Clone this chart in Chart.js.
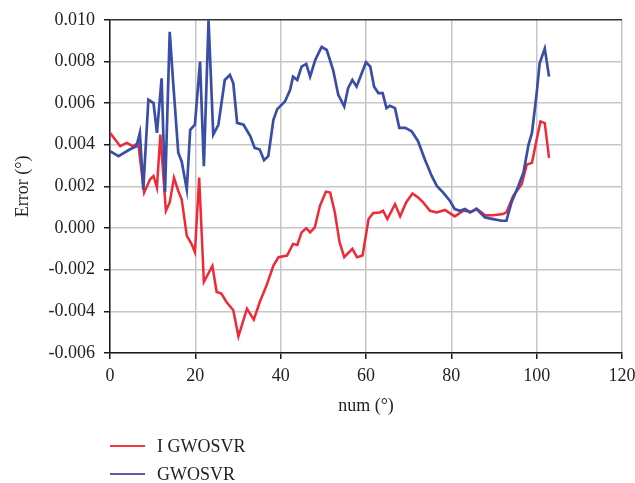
<!DOCTYPE html>
<html>
<head>
<meta charset="utf-8">
<script src="https://cdn.jsdelivr.net/npm/chart.js@4.4.1/dist/chart.umd.min.js"></script>
<style>
  html, body { margin: 0; padding: 0; background: #ffffff; }
  #wrap { position: relative; width: 635px; height: 483px; }
  #c { position: absolute; left: 0; top: 0; }
  .leg { position: absolute; left: 110px; height: 24px; font-family: "Liberation Serif", "DejaVu Serif", serif; font-size: 18px; color: #222; display: flex; align-items: center; }
  .leg .ln { width: 35px; height: 2px; margin-right: 12px; }
</style>
</head>
<body>
<div id="wrap">
  <canvas id="c" width="635" height="483"></canvas>
  <div class="leg" style="top:434px;"><div class="ln" style="background:#ec3a42;"></div><span>I GWOSVR</span></div>
  <div class="leg" style="top:462px;"><div class="ln" style="background:#5d5caa;"></div><span>GWOSVR</span></div>
</div>
<script>
const seriesNames = ["I GWOSVR", "GWOSVR"];
const xTicks = [0, 20, 40, 60, 80, 100, 120];
const yTicks = [-0.006, -0.004, -0.002, 0.000, 0.002, 0.004, 0.006, 0.008, 0.010];

const redX = [0, 1.2, 2.4, 3.9, 5.4, 6.6, 8.0, 9.4, 10.2, 11.0, 11.8, 13.1, 14.0, 15.0, 16.0, 16.8, 18.0, 19.1, 19.9, 20.9, 22.0, 24.0, 25.0, 26.1, 27.3, 28.9, 30.1, 32.1, 33.7, 35.1, 36.7, 38.3, 39.5, 41.5, 42.9, 43.9, 44.9, 46.0, 46.9, 48.0, 49.2, 50.6, 51.6, 52.7, 53.8, 54.9, 56.8, 57.9, 59.2, 60.6, 61.7, 63.2, 64.0, 65.0, 66.8, 68.0, 69.4, 70.9, 72.2, 73.4, 75.0, 76.6, 78.5, 80.8, 82.8, 84.7, 85.9, 87.9, 89.8, 92.1, 92.9, 94.5, 96.5, 97.7, 98.9, 100.0, 100.9, 101.9, 102.9];
const redY = [0.00457, 0.00425, 0.00393, 0.00409, 0.00393, 0.00409, 0.00170, 0.00234, 0.00250, 0.00194, 0.00449, 0.00083, 0.00123, 0.00242, 0.00178, 0.00138, -0.00037, -0.00076, -0.00116, 0.00242, -0.00259, -0.00182, -0.00307, -0.00315, -0.00355, -0.00395, -0.00520, -0.00387, -0.00440, -0.00355, -0.00275, -0.00180, -0.00140, -0.00132, -0.00076, -0.00081, -0.00021, -0.00001, -0.00021, 0.00003, 0.00106, 0.00175, 0.00170, 0.00075, -0.00068, -0.00140, -0.00100, -0.00140, -0.00132, 0.00043, 0.00072, 0.00075, 0.00083, 0.00043, 0.00115, 0.00056, 0.00123, 0.00166, 0.00147, 0.00123, 0.00083, 0.00075, 0.00087, 0.00056, 0.00083, 0.00078, 0.00094, 0.00062, 0.00062, 0.00067, 0.00075, 0.00154, 0.00210, 0.00305, 0.00313, 0.00425, 0.00512, 0.00504, 0.00337];

const blueX = [0, 2.0, 4.6, 6.2, 7.0, 7.8, 9.0, 10.2, 11.0, 12.1, 12.9, 14.0, 14.8, 16.0, 16.8, 18.0, 18.8, 19.9, 21.1, 22.0, 23.1, 24.2, 25.4, 26.9, 28.1, 28.9, 29.8, 31.3, 32.9, 33.9, 35.1, 36.1, 37.1, 38.3, 39.2, 41.0, 42.2, 42.9, 43.9, 44.9, 46.0, 46.9, 48.1, 49.6, 50.8, 52.3, 53.5, 54.9, 55.8, 56.8, 57.8, 59.0, 60.0, 61.0, 61.9, 62.9, 63.9, 64.8, 65.6, 66.8, 67.8, 69.2, 70.7, 72.2, 73.8, 75.4, 76.6, 78.1, 79.7, 80.8, 82.0, 83.2, 84.4, 85.9, 87.9, 89.8, 91.8, 92.9, 94.1, 95.7, 96.9, 98.1, 98.9, 100.0, 100.7, 101.9, 102.9];
const blueY = [0.00369, 0.00345, 0.00377, 0.00393, 0.00458, 0.00186, 0.00616, 0.00600, 0.00457, 0.00719, 0.00172, 0.00942, 0.00700, 0.00362, 0.00320, 0.00186, 0.00472, 0.00496, 0.00799, 0.00297, 0.00998, 0.00449, 0.00496, 0.00711, 0.00735, 0.00695, 0.00505, 0.00496, 0.00441, 0.00385, 0.00377, 0.00326, 0.00345, 0.00520, 0.00571, 0.00608, 0.00663, 0.00727, 0.00711, 0.00775, 0.00788, 0.00727, 0.00807, 0.00870, 0.00855, 0.00759, 0.00640, 0.00584, 0.00672, 0.00711, 0.00679, 0.00743, 0.00796, 0.00775, 0.00679, 0.00648, 0.00648, 0.00576, 0.00587, 0.00576, 0.00481, 0.00481, 0.00465, 0.00417, 0.00329, 0.00250, 0.00202, 0.00170, 0.00130, 0.00091, 0.00083, 0.00091, 0.00075, 0.00091, 0.00051, 0.00043, 0.00035, 0.00035, 0.00123, 0.00202, 0.00266, 0.00401, 0.00457, 0.00648, 0.00791, 0.00862, 0.00727];

const FONT = "'Liberation Serif', 'DejaVu Serif', serif";
function pts(xs, ys) { return xs.map((x, i) => ({ x: x, y: ys[i] })); }

new Chart(document.getElementById('c'), {
  type: 'scatter',
  data: {
    datasets: [
      { label: seriesNames[0], data: pts(redX, redY), showLine: true, borderColor: '#ee2a36', borderWidth: 2.5, pointRadius: 0, tension: 0, order: 2 },
      { label: seriesNames[1], data: pts(blueX, blueY), showLine: true, borderColor: '#3a4ea6', borderWidth: 2.7, pointRadius: 0, tension: 0, order: 1 }
    ]
  },
  options: {
    responsive: false,
    animation: false,
    devicePixelRatio: 1,
    layout: { padding: { left: 0, right: 0, top: 19, bottom: 60 } },
    plugins: { legend: { display: false }, tooltip: { enabled: false } },
    scales: {
      x: {
        type: 'linear', min: 0, max: 120,
        afterBuildTicks: s => { s.ticks = xTicks.map(v => ({ value: v })); },
        afterFit: s => { s.height = 70; s.paddingLeft = 0; s.paddingRight = 13; },
        border: { display: true, color: '#1a1a1a', width: 1.5 },
        grid: { color: '#c6c6c6', lineWidth: 1.5, tickLength: 6, tickColor: '#1a1a1a' },
        ticks: { font: { family: FONT, size: 18 }, color: '#222', padding: 6, maxRotation: 0 },
        title: { display: true, text: 'num (°)', font: { family: FONT, size: 18 }, color: '#222', padding: { top: 0, bottom: 6 } }
      },
      y: {
        type: 'linear', min: -0.006, max: 0.010,
        afterBuildTicks: s => { s.ticks = yTicks.map(v => ({ value: v })); },
        afterFit: s => { s.width = 110; },
        border: { display: true, color: '#1a1a1a', width: 1.5 },
        grid: {
          color: ctx => (ctx.tick && Math.abs(ctx.tick.value - 0.010) < 1e-9) ? '#333333' : '#c6c6c6',
          lineWidth: 1.5, tickLength: 6, tickColor: '#1a1a1a'
        },
        ticks: { font: { family: FONT, size: 18 }, color: '#222', padding: 9, callback: v => v.toFixed(3) },
        title: { display: true, text: 'Error (°)', font: { family: FONT, size: 18 }, color: '#222', padding: { top: 12, bottom: 0 } }
      }
    }
  }
});
</script>
</body>
</html>
